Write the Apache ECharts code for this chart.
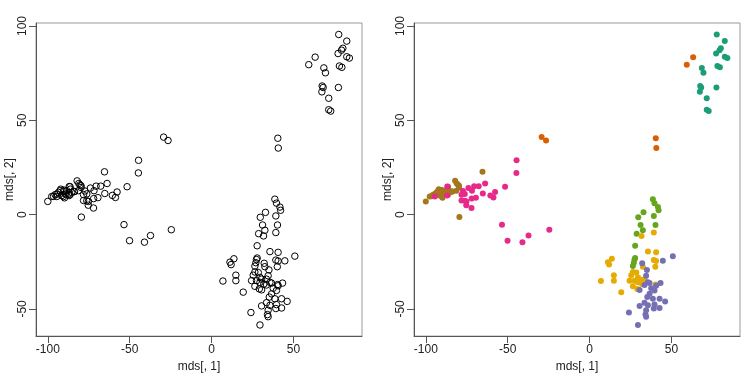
<!DOCTYPE html>
<html>
<head>
<meta charset="utf-8">
<script src="https://cdn.jsdelivr.net/npm/echarts@6/dist/echarts.min.js"></script>
<style>html,body{margin:0;padding:0;background:#fff}#c{width:756px;height:378px}</style>
</head>
<body>
<div id="c"></div>
<script>
// MDS coordinates per group (x = mds[,1], y = mds[,2])
const brown = [[-100,7.0],[-97.6,9.6],[-96.5,9.7],[-95.5,10.6],[-94.5,10.9],[-93.5,11.8],[-92.5,12.7],[-92.1,13.5],[-91.5,10.1],[-90.4,12.3],[-90.2,13.0],[-90.4,9.6],[-89.8,8.9],[-89.4,10.9],[-88.8,10.9],[-88.4,12.7],[-87.4,10.9],[-86.4,14.8],[-86.4,10.6],[-86.2,13.5],[-85.4,11.8],[-84.0,12.3],[-83.7,12.2],[-82.1,17.9],[-81.3,12.7],[-81.1,16.5],[-80.3,15.8],[-79.7,14.4],[-79.7,15.3],[-65.4,22.7],[-79.5,-1.3]];
const pink = [[-44.6,28.8],[-44.7,22.1],[-51.6,14.8],[-63.8,16.5],[-57.7,12.0],[-67.7,15.1],[-70.5,15.1],[-74.0,14.1],[-71.8,12.7],[-65.2,11.2],[-60.6,10.2],[-58.7,9.1],[-69.4,9.0],[-72.0,8.5],[-76.2,7.3],[-78.2,7.5],[-75.3,5.0],[-72.1,3.5],[-77.3,12.5],[-76.2,11.0],[-78.2,10.6],[-86.9,14.9],[-87.0,10.1],[-94.5,9.6],[-75.2,7.0],[-53.5,-5.3],[-24.6,-8.0],[-37.3,-11.1],[-50.1,-13.8],[-41.0,-14.6]];
const orange = [[-29.3,41.1],[-26.6,39.3],[40.4,40.5],[40.7,35.3],[63.2,83.5],[59.3,79.5]];
const teal = [[77.6,95.5],[82.5,92.0],[80.1,88.2],[79.3,87.2],[77.2,85.4],[82.5,83.7],[84.1,83.0],[78.0,78.8],[79.5,78.1],[68.5,77.8],[69.5,75.2],[67.5,68.2],[68.1,67.4],[67.3,65.1],[77.4,67.4],[71.5,61.7],[71.5,55.6],[72.7,54.9]];
const green = [[38.6,8.2],[39.6,6.1],[41.7,4.0],[42.1,2.3],[32.9,1.2],[29.7,-1.4],[39.2,-0.7],[31.1,-5.5],[40.2,-5.5],[32.5,-8.3],[28.7,-10.1],[27.8,-16.5],[27.4,-23.8],[27.0,-25.5],[26.4,-27.3],[27.8,-23.0]];
const yellow = [[31.7,-11.3],[39.2,-9.5],[35.6,-19.6],[40.6,-20.0],[39.2,-24.1],[40.6,-24.6],[40.1,-27.6],[11.2,-25.2],[13.6,-23.4],[11.9,-26.5],[14.8,-32.1],[14.8,-35.0],[6.9,-35.2],[19.3,-41.1],[32.5,-27.6],[26.4,-30.4],[28.5,-30.7],[25.4,-32.1],[29.5,-33.3],[24.4,-35.0],[27.4,-35.0],[30.5,-34.2],[33.5,-34.2],[29.5,-35.9],[26.4,-38.0],[29.1,-39.4],[40.3,-37.1],[31.9,-36.8]];
const purple = [[50.8,-22.0],[44.7,-24.5],[32.1,-25.8],[35.0,-29.3],[34.5,-32.4],[35.6,-35.9],[33.5,-37.3],[30.5,-39.9],[37.6,-39.0],[39.6,-40.2],[43.3,-36.3],[36.6,-42.0],[35.2,-43.7],[38.6,-44.6],[42.7,-44.6],[46.1,-46.0],[33.5,-46.7],[30.5,-48.4],[35.6,-48.1],[39.6,-47.7],[42.7,-49.5],[39.2,-49.8],[34.5,-50.7],[34.1,-53.0],[34.5,-54.1],[24.0,-51.9],[29.5,-58.5],[36.6,-36.3],[40.6,-37.7]];

const groups = [
  {name:'brown', data:brown, color:'#A6761D'},
  {name:'pink', data:pink, color:'#E7298A'},
  {name:'orange', data:orange, color:'#D95F02'},
  {name:'teal', data:teal, color:'#1B9E77'},
  {name:'green', data:green, color:'#66A61E'},
  {name:'yellow', data:yellow, color:'#E6AB02'},
  {name:'purple', data:purple, color:'#7570B3'}
];
const xTicks = [-100,-50,0,50];
const yTicks = [-50,0,50,100];
const xRange = [-107.2, 91.8];
const yRange = [-64.4, 101.6];

const FONT = "'Liberation Sans', Arial, sans-serif";
function xAxis(gi){
  return {gridIndex:gi, type:'value', min:xRange[0], max:xRange[1], name:'mds[, 1]',
    nameLocation:'middle', nameGap:22, nameTextStyle:{fontFamily:FONT,fontSize:12,color:'#222'},
    axisLine:{show:true,onZero:false,lineStyle:{color:'#555',width:1}},
    axisTick:{show:true,length:7,customValues:xTicks,lineStyle:{color:'#555'}},
    axisLabel:{customValues:xTicks,margin:8,fontFamily:FONT,fontSize:12,color:'#222',showMinLabel:true,showMaxLabel:true},
    splitLine:{show:false}};
}
function yAxis(gi){
  return {gridIndex:gi, type:'value', min:yRange[0], max:yRange[1], name:'mds[, 2]',
    nameLocation:'middle', nameGap:20, nameTextStyle:{fontFamily:FONT,fontSize:12,color:'#222'},
    axisLine:{show:true,onZero:false,lineStyle:{color:'#555',width:1}},
    axisTick:{show:true,length:7,customValues:yTicks,lineStyle:{color:'#555'}},
    axisLabel:{customValues:yTicks,rotate:90,margin:7,fontFamily:FONT,fontSize:12,color:'#222',showMinLabel:true,showMaxLabel:true},
    splitLine:{show:false}};
}
const allPts = [].concat(...groups.map(g=>g.data));
const series = [{type:'scatter', xAxisIndex:0, yAxisIndex:0, data:allPts, symbol:'circle', symbolSize:6.5,
  itemStyle:{color:'rgba(0,0,0,0)',borderColor:'#000',borderWidth:1,opacity:1}, silent:true, animation:false}];
groups.forEach(g=>series.push({type:'scatter', name:g.name, xAxisIndex:1, yAxisIndex:1, data:g.data,
  symbol:'circle', symbolSize:6, itemStyle:{color:g.color,opacity:1}, silent:true, animation:false}));

const chart = echarts.init(document.getElementById('c'), null, {renderer:'canvas'});
chart.setOption({
  animation:false,
  backgroundColor:'#fff',
  grid:[
    {left:36, top:23, width:326, height:319, show:true, borderColor:'#999', borderWidth:1, containLabel:false},
    {left:414, top:23, width:326, height:319, show:true, borderColor:'#999', borderWidth:1, containLabel:false}
  ],
  xAxis:[xAxis(0), xAxis(1)],
  yAxis:[yAxis(0), yAxis(1)],
  series: series
});
</script>
</body>
</html>
